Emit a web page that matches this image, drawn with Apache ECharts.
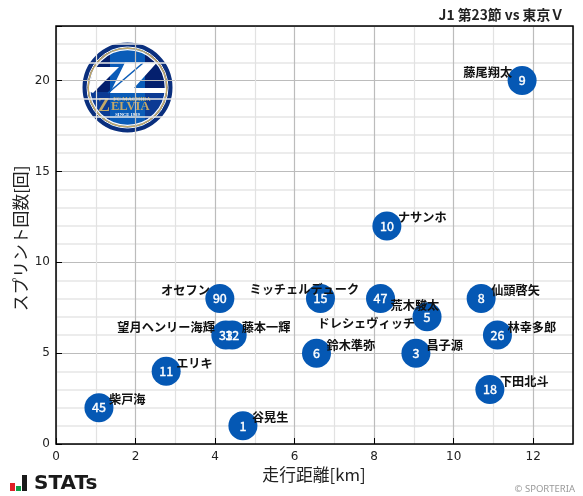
<!DOCTYPE html>
<html><head><meta charset="utf-8">
<style>html,body{margin:0;padding:0;background:#fff}#c{width:583px;height:496px}</style>
<script src="https://cdn.jsdelivr.net/npm/echarts@6/dist/echarts.min.js"></script></head>
<body><div id="c"></div>
<script>
const playerNames = ['藤尾翔太','ナサンホ','オセフン','望月ヘンリー海輝','藤本一輝','ミッチェルデューク','荒木駿太','ドレシェヴィッチ','仙頭啓矢','林幸多郎','鈴木準弥','昌子源','下田北斗','エリキ','柴戸海','谷晃生'];
const shirtNumbers = ['9','10','90','33','12','15','47','5','8','26','6','3','18','11','45','1'];
const distanceKm = [11.72,8.32,4.12,4.27,4.43,6.65,8.16,9.33,10.69,11.1,6.55,9.05,10.91,2.77,1.08,4.7];
const sprintCount = [20,12,8,6,6,8,8,7,8,6,5,5,3,4,2,1];
const xTicks = [0,2,4,6,8,10,12];
const yTicks = [0,5,10,15,20];
const titleText = 'J1 第23節 vs 東京Ｖ';
const xAxisName = '走行距離[km]';
const yAxisName = 'スプリント回数[回]';

// label placement, in pixels from each marker's centre
const labelPlacement = [
 ['right',-10,-8],['left',11,-9],['right',-10,-8],['right',-11,-8],['left',9.5,-8],
 ['left',-71,-9],['left',10,7],['right',-12,7],['left',10,-8],['left',10,-8],
 ['left',10,-8],['left',10.5,-8],['left',10,-8],['left',10,-8],['left',10,-8],['left',9,-8]
];
const CJK = '"Noto Sans CJK JP","Noto Sans",sans-serif';
const SERIF = '"Liberation Serif",serif';
const GOLD = '#c2a868';
const points = distanceKm.map((x,i)=>({value:[x,sprintCount[i]],num:shirtNumbers[i]}));
const chart = echarts.init(document.getElementById('c'),null,{renderer:'canvas'});
const ring = (r,w,c)=>({type:'circle',shape:{cx:45.5,cy:45.5,r},style:{fill:'none',stroke:c,lineWidth:w}});
const logoText = (t,x,y,s,c,a)=>({type:'text',x,y,style:{text:t,fontFamily:SERIF,fontSize:s,fontWeight:'bold',fill:c,align:a||'center',verticalAlign:'middle'}});
const logo = {type:'group',x:82,y:42,silent:true,z:40,children:[
 {type:'circle',shape:{cx:45.5,cy:45.5,r:44},style:{fill:'#0b3a94'}},
 {type:'polygon',shape:{points:[[3,45],[7,24],[14,15],[28,5.5],[28,50],[3,50]]},style:{fill:'#04206e'}},
 {type:'polygon',shape:{points:[[88,45],[84,24],[77,15],[63,5.5],[63,50],[88,50]]},style:{fill:'#04206e'}},
 {type:'polygon',shape:{points:[[28,5.5],[63,5.5],[63,85.5],[28,85.5]]},style:{fill:'#0a5cb8'}},
 {type:'polygon',shape:{points:[[12,25],[37,25],[11,51],[6,49]]},style:{fill:'#fff'}},
 {type:'polygon',shape:{points:[[43,20.5],[75,20.5],[52,46],[84,46],[84,51],[28,51]]},style:{fill:'#fff'}},
 {type:'polyline',shape:{points:[[61,21],[26,51]]},style:{fill:'none',stroke:'#0a5cb8',lineWidth:1.6}},
 ring(43,4,'#0a2f7e'),ring(40.5,1,'#fff'),ring(39.2,1.6,GOLD),ring(37.8,1.2,'#fff'),
 logoText('Z',16,64,18,GOLD,'left'),
 logoText('ELVIA',29,65,12.5,GOLD,'left'),
 logoText('FC MACHIDA',50,58,5.7,GOLD),
 logoText('SINCE 1989',45.5,73,4.6,'#fff')
]};
const stats = {type:'group',x:10,y:475,silent:true,z:40,children:[
 {type:'rect',shape:{x:0,y:8,width:5,height:8},style:{fill:'#e02027'}},
 {type:'rect',shape:{x:6,y:11,width:5,height:5},style:{fill:'#0f9d48'}},
 {type:'rect',shape:{x:12,y:0,width:5,height:16},style:{fill:'#1a1a1a'}},
 {type:'text',x:24,y:-1,style:{text:'STATs',fontFamily:'"DejaVu Sans",sans-serif',fontWeight:'bold',fontSize:20,fill:'#1a1a1a'}}
]};
chart.setOption({
 animation:false,backgroundColor:'#fff',
 grid:{left:56,right:10,top:26,bottom:52,show:false,containLabel:false,outerBoundsMode:'none'},
 xAxis:{type:'value',min:0,max:13,interval:2,name:xAxisName,nameLocation:'middle',nameGap:22,nameMoveOverlap:false,
  nameTextStyle:{fontFamily:CJK,fontSize:16.8,color:'#222',padding:[0,1,0,0]},
  axisLine:{show:false,onZero:false},
  axisTick:{show:true,inside:true,length:6,lineStyle:{color:'#000'}},
  minorTick:{show:false,splitNumber:2},
  axisLabel:{formatter:v=>xTicks.includes(v)?String(v):'',fontFamily:'"DejaVu Sans"',fontSize:12,color:'#222',margin:7,showMaxLabel:false},
  splitLine:{show:true,lineStyle:{color:'#bcbcbc',width:1.2}},
  minorSplitLine:{show:true,lineStyle:{color:'#e2e2e2',width:1.2}}},
 yAxis:{type:'value',min:0,max:23,interval:5,name:yAxisName,nameLocation:'middle',nameGap:27,nameMoveOverlap:false,
  nameTextStyle:{fontFamily:CJK,fontSize:16.8,color:'#222',padding:[0,7,0,0]},
  axisLine:{show:false,onZero:false},
  axisTick:{show:true,inside:true,length:6,lineStyle:{color:'#000'}},
  axisLabel:{formatter:v=>yTicks.includes(v)?String(v):'',fontFamily:'"DejaVu Sans"',fontSize:12,color:'#222',margin:6},
  minorTick:{show:false,splitNumber:5},
  splitLine:{show:true,lineStyle:{color:'#bcbcbc',width:1.2}},
  minorSplitLine:{show:true,lineStyle:{color:'#e6e6e6',width:1.5}}},
 graphic:[
  {type:'rect',silent:true,z:50,shape:{x:56,y:26,width:517,height:418},style:{fill:'none',stroke:'#000',lineWidth:1.5}},
  {type:'text',z:50,right:19,top:8,style:{text:titleText,fontFamily:CJK,fontWeight:'bold',fontSize:13.8,fill:'#222'}},
  {type:'text',z:50,right:8,top:484,style:{text:'© SPORTERIA',fontFamily:'"Noto Sans",sans-serif',fontSize:9.5,fill:'#999'}},
  logo,stats
 ],
 series:[{type:'scatter',data:points,symbolSize:29,z:5,
  itemStyle:{color:'#0558b4',opacity:1},
  label:{show:true,position:'inside',formatter:p=>p.data.num,color:'#fff',fontFamily:CJK,fontWeight:'normal',fontSize:12.5,textBorderColor:'#fff',textBorderWidth:0.4}},
  {type:'custom',z:7,silent:true,coordinateSystem:'cartesian2d',data:points.map((p,i)=>[p.value[0],p.value[1],i]),
   encode:{x:0,y:1},
   renderItem:(params,api)=>{const c=api.coord([api.value(0),api.value(1)]);const i=api.value(2);const pl=labelPlacement[i];
    return {type:'text',x:c[0]+pl[1],y:c[1]+pl[2],style:{text:playerNames[i],fontFamily:CJK,fontWeight:'bold',fontSize:12.2,fill:'#111',align:pl[0],verticalAlign:'middle'}};}}
 ]
});
</script></body></html>
